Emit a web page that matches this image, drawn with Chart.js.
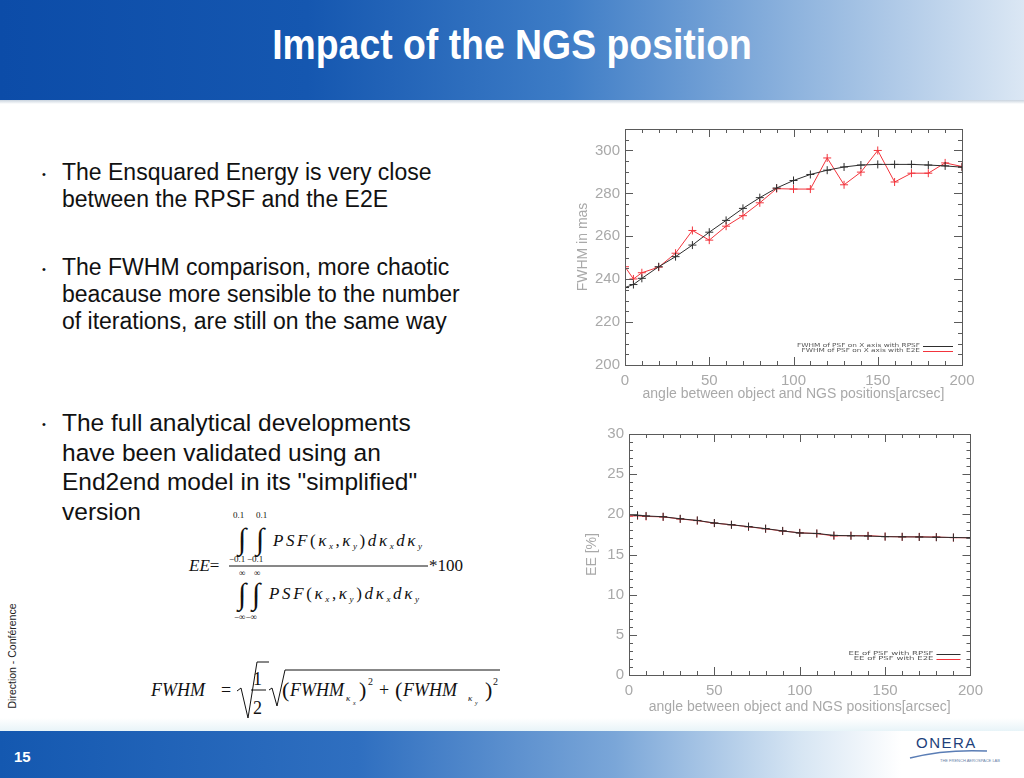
<!DOCTYPE html>
<html>
<head>
<meta charset="utf-8">
<script src="https://cdn.jsdelivr.net/npm/chart.js@4/dist/chart.umd.min.js"></script>
<style>
  html, body { margin: 0; padding: 0; }
  body { width: 1024px; height: 778px; position: relative; overflow: hidden; background: #fff; font-family: "Liberation Sans", Arial, sans-serif; }
  .header { position: absolute; left: 0; top: 0; width: 1024px; height: 100px;
    background: linear-gradient(90deg, #0c4ca8 0%, #1557b0 30%, #3d7cc6 55%, #8fb4de 78%, #dbe7f4 100%); }
  .header-line { position: absolute; left: 0; top: 100px; width: 1024px; height: 4px;
    background: linear-gradient(180deg, #c9d3de, #ffffff); }
  .title { position: absolute; left: 0; top: 21px; width: 1024px; text-align: center; color: #fff;
    font-family: "Liberation Sans", Arial, sans-serif; font-weight: bold; font-size: 42px;
    transform: scaleX(0.89); transform-origin: 512px 0; }
  .footer-tint { position: absolute; left: 0; top: 718px; width: 1024px; height: 14px;
    background: linear-gradient(180deg, #ffffff, #e6f3f8); }
  .footer { position: absolute; left: 0; top: 731px; width: 1024px; height: 47px;
    background: linear-gradient(90deg, #1458b0 0%, #2f6fc0 35%, #7aa6d8 60%, #d6e5f3 78%, #ffffff 88%); }
  .pageno { position: absolute; left: 14px; top: 748px; color: #fff; font-weight: bold; font-size: 15px; }
  .logo { position: absolute; left: 916px; top: 734px; color: #1e3f7a; font-size: 15px; letter-spacing: 1.5px; }
  .logo-sub { position: absolute; left: 940px; top: 758px; color: #6a7fa8; font-size: 4px; }
  .side { position: absolute; left: 12px; top: 656px; transform: translate(-50%, -50%) rotate(-90deg);
    font-size: 10.5px; color: #222; white-space: nowrap; }
  .bullet { position: absolute; color: #111; white-space: nowrap; }
  .b1 { font-size: 23px; line-height: 27px; }
  .b3 { font-size: 24.5px; line-height: 29.7px; }
  .dot { position: absolute; font-size: 11px; color: #111; }
  .chartbox { position: absolute; }
</style>
</head>
<body>
<div class="header"></div>
<div class="header-line"></div>
<div class="title">Impact of the NGS position</div>

<div class="dot" style="left:42px;top:168px">•</div>
<div class="bullet b1" style="left:62px;top:159px">The Ensquared Energy is very close<br>between the RPSF and the E2E</div>
<div class="dot" style="left:42px;top:263px">•</div>
<div class="bullet b1" style="left:62px;top:254px">The FWHM comparison, more chaotic<br>beacause more sensible to the number<br>of iterations, are still on the same way</div>
<div class="dot" style="left:42px;top:418px">•</div>
<div class="bullet b3" style="left:62px;top:408px">The full analytical developments<br>have been validated using an<br>End2end model in its "simplified"<br>version</div>

<svg style="position:absolute;left:0;top:0" width="520" height="730" font-family="Liberation Serif, Times New Roman, serif" fill="#111">
  <g font-size="9">
    <text x="233" y="518">0.1</text><text x="256" y="518">0.1</text>
    <text x="229" y="562">−0.1</text><text x="247" y="562">−0.1</text>
    <text x="239" y="576">∞</text><text x="254" y="576">∞</text>
    <text x="234" y="620">−∞−∞</text>
  </g>
  <g font-size="30">
    <text x="238" y="549">∫</text><text x="256" y="549">∫</text>
    <text x="238" y="604">∫</text><text x="252" y="604">∫</text>
  </g>
  <text x="273" y="546" font-size="17" textLength="149" lengthAdjust="spacing"><tspan font-style="italic">PSF</tspan>(<tspan font-style="italic">κ</tspan><tspan font-size="9" font-style="italic" dy="3">x</tspan><tspan dy="-3">,</tspan><tspan font-style="italic">κ</tspan><tspan font-size="9" font-style="italic" dy="3">y</tspan><tspan dy="-3">)</tspan><tspan font-style="italic">dκ</tspan><tspan font-size="9" font-style="italic" dy="3">x</tspan><tspan dy="-3" font-style="italic">dκ</tspan><tspan font-size="9" font-style="italic" dy="3">y</tspan></text>
  <text x="269" y="599" font-size="17" textLength="150" lengthAdjust="spacing"><tspan font-style="italic">PSF</tspan>(<tspan font-style="italic">κ</tspan><tspan font-size="9" font-style="italic" dy="3">x</tspan><tspan dy="-3">,</tspan><tspan font-style="italic">κ</tspan><tspan font-size="9" font-style="italic" dy="3">y</tspan><tspan dy="-3">)</tspan><tspan font-style="italic">dκ</tspan><tspan font-size="9" font-style="italic" dy="3">x</tspan><tspan dy="-3" font-style="italic">dκ</tspan><tspan font-size="9" font-style="italic" dy="3">y</tspan></text>
  <text x="189" y="571" font-size="17"><tspan font-style="italic">EE</tspan>=</text>
  <text x="429" y="571" font-size="17">*100</text>
  <line x1="229" y1="566" x2="428" y2="566" stroke="#111" stroke-width="1"/>

  <g font-size="18">
    <text x="151" y="696" font-style="italic">FWHM</text>
    <text x="221" y="696">=</text>
    <text x="253" y="685">1</text>
    <text x="253" y="714">2</text>
    <text x="282" y="697" font-size="22">(</text>
    <text x="290" y="696" font-style="italic">FWHM</text>
    <text x="359" y="697" font-size="22">)</text>
    <text x="379" y="696">+</text>
    <text x="395" y="697" font-size="22">(</text>
    <text x="403" y="696" font-style="italic">FWHM</text>
    <text x="485" y="697" font-size="22">)</text>
  </g>
  <g font-size="10">
    <text x="368" y="685">2</text><text x="493" y="685">2</text>
  </g>
  <g font-size="9" font-style="italic">
    <text x="346" y="701">κ</text><text x="353" y="705" font-size="6">x</text>
    <text x="468" y="701">κ</text><text x="475" y="705" font-size="6">y</text>
  </g>
  <line x1="251" y1="690" x2="266" y2="690" stroke="#111" stroke-width="1"/>
  <polyline points="237,691 241,688 248,718 257,662 269,662" fill="none" stroke="#111" stroke-width="1"/>
  <polyline points="269,690 272,688 277,706 285,670 500,670" fill="none" stroke="#111" stroke-width="1"/>
</svg>

<div class="side">Direction - Conférence</div>

<div class="chartbox" style="left:570px;top:115px;width:420px;height:290px"><canvas id="fwhmChart"></canvas></div>
<div class="chartbox" style="left:570px;top:420px;width:420px;height:300px"><canvas id="eeChart"></canvas></div>

<div class="footer-tint"></div>
<div class="footer"></div>
<div class="pageno">15</div>
<div class="logo">ONERA</div>
<svg style="position:absolute;left:905px;top:748px" width="90" height="12">
  <path d="M5 10 Q 40 1 82 3" fill="none" stroke="#5a7db5" stroke-width="1.5"/>
</svg>
<div class="logo-sub">THE FRENCH AEROSPACE LAB</div>

<script>
// angles between object and NGS [arcsec]
const angles = [0, 5, 10, 20, 30, 40, 50, 60, 70, 80, 90, 100, 110, 120, 130, 140, 150, 160, 170, 180, 190, 200];

// FWHM in mas
const fwhmRpsf = [236.1, 237.5, 240.4, 245.8, 250.5, 255.9, 261.9, 267.4, 273.0, 278.0, 282.5, 286.0, 288.8, 290.8, 292.3, 293.2, 293.5, 293.5, 293.5, 293.2, 292.8, 292.2];
const fwhmE2e = [245.8, 240.1, 243.0, 245.6, 252.1, 262.7, 258.2, 264.7, 269.6, 275.6, 282.2, 282.0, 282.0, 296.5, 284.0, 289.9, 300.0, 285.3, 289.4, 289.4, 294.2, 292.5];

// EE in %
const eeRpsf = [19.95, 19.88, 19.8, 19.7, 19.45, 19.24, 18.92, 18.7, 18.47, 18.22, 17.94, 17.68, 17.62, 17.38, 17.33, 17.3, 17.22, 17.2, 17.18, 17.15, 17.12, 17.08];
const eeE2e = [19.78, 19.83, 19.74, 19.68, 19.42, 19.22, 18.9, 18.7, 18.45, 18.2, 17.92, 17.7, 17.6, 17.32, 17.35, 17.34, 17.24, 17.2, 17.2, 17.17, 17.1, 17.08];

const xTicks = [0, 50, 100, 150, 200];
const fwhmTicks = [200, 220, 240, 260, 280, 300];
const eeTicks = [0, 5, 10, 15, 20, 25, 30];

const labelsFwhm = ['FWHM of PSF on X axis with RPSF', 'FWHM of PSF on X axis with E2E'];
const labelsEe = ['EE of PSF with RPSF', 'EE of PSF with E2E'];

const TEXT = '#a9a9a9';
const BLACK = '#2e2e2e';
const RED = '#f2343c';

// IDL style frame: box on four sides, inward major and minor ticks, small legend
const idlFrame = {
    id: 'idlFrame',
    afterDatasetsDraw(chart, args, opts) {
        const { ctx, chartArea: a, scales: { x, y } } = chart;
        ctx.save();
        ctx.strokeStyle = '#5a5a5a';
        ctx.lineWidth = 1;
        ctx.strokeRect(Math.round(a.left) + 0.5, Math.round(a.top) + 0.5, Math.round(a.right - a.left), Math.round(a.bottom - a.top));
        ctx.beginPath();
        for (let v = x.min; v <= x.max + 1e-9; v += opts.xMinor) {
            const p = Math.round(x.getPixelForValue(v)) + 0.5;
            const len = Math.abs(v % opts.xMajor) < 1e-6 ? 8 : 4;
            ctx.moveTo(p, a.bottom); ctx.lineTo(p, a.bottom - len);
            ctx.moveTo(p, a.top); ctx.lineTo(p, a.top + len);
        }
        for (let v = y.min; v <= y.max + 1e-9; v += opts.yMinor) {
            const p = Math.round(y.getPixelForValue(v)) + 0.5;
            const len = Math.abs(v % opts.yMajor) < 1e-6 ? 8 : 4;
            ctx.moveTo(a.left, p); ctx.lineTo(a.left + len, p);
            ctx.moveTo(a.right, p); ctx.lineTo(a.right - len, p);
        }
        ctx.stroke();

        // legend: wide thin text, line sample on the right
        const lg = opts.legend;
        ctx.font = '5.5px "DejaVu Sans", sans-serif';
        ctx.textBaseline = 'middle';
        ctx.textAlign = 'left';
        const widest = Math.max(...chart.data.datasets.map(ds => ctx.measureText(ds.label).width));
        const sx = lg.textWidth / widest;
        chart.data.datasets.forEach((ds, i) => {
            const ly = a.bottom - lg.bottom + i * lg.gap;
            const w = ctx.measureText(ds.label).width * sx;
            ctx.save();
            ctx.translate(a.right - lg.textRight - w, ly);
            ctx.scale(sx, 1);
            ctx.fillStyle = '#555';
            ctx.fillText(ds.label, 0, 0);
            ctx.restore();
            ctx.strokeStyle = ds.borderColor;
            ctx.beginPath();
            ctx.moveTo(a.right - lg.lineFrom, Math.round(ly) + 0.5);
            ctx.lineTo(a.right - lg.lineTo, Math.round(ly) + 0.5);
            ctx.stroke();
        });
        ctx.restore();
    }
};

function makeDataset(label, values, color) {
    return {
        label: label,
        data: angles.map((a, i) => ({ x: a, y: values[i] })),
        borderColor: color,
        backgroundColor: color,
        borderWidth: 1,
        pointStyle: 'cross',
        pointRadius: 4,
        pointBorderWidth: 1,
        pointBorderColor: color,
        tension: 0
    };
}

function makeChart(id, cfg) {
    const ctx = document.getElementById(id).getContext('2d');
    return new Chart(ctx, {
        type: 'line',
        data: { datasets: cfg.datasets },
        options: {
            responsive: true,
            maintainAspectRatio: false,
            animation: false,
            layout: { padding: { top: cfg.padTop, right: cfg.padRight, left: 0, bottom: 0 } },
            plugins: {
                legend: { display: false },
                tooltip: { enabled: false },
                idlFrame: cfg.frame
            },
            scales: {
                x: {
                    type: 'linear',
                    min: 0,
                    max: 200,
                    grid: { display: false, drawTicks: false, tickLength: 0 },
                    border: { display: false },
                    afterBuildTicks: s => { s.ticks = xTicks.map(v => ({ value: v })); },
                    afterFit: s => { s.height = cfg.xHeight; },
                    ticks: { color: TEXT, font: { size: 15, family: 'Liberation Sans' }, padding: cfg.xTickPad, maxRotation: 0 },
                    title: { display: true, text: 'angle between object and NGS positions[arcsec]', color: TEXT,
                        font: { size: 14, family: 'Liberation Sans' }, padding: { top: 0, bottom: cfg.xTitlePad } }
                },
                y: {
                    type: 'linear',
                    min: cfg.yMin,
                    max: cfg.yMax,
                    grid: { display: false, drawTicks: false, tickLength: 0 },
                    border: { display: false },
                    afterBuildTicks: s => { s.ticks = cfg.yTicks.map(v => ({ value: v })); },
                    afterFit: s => { s.width = cfg.yWidth; },
                    ticks: { color: TEXT, font: { size: 15, family: 'Liberation Sans' }, padding: 5 },
                    title: { display: true, text: cfg.yTitle, color: TEXT,
                        font: { size: 14, family: 'Liberation Sans' }, padding: { top: cfg.yTitlePad, bottom: 0 } }
                }
            }
        },
        plugins: [idlFrame]
    });
}

makeChart('fwhmChart', {
    datasets: [makeDataset(labelsFwhm[0], fwhmRpsf, BLACK), makeDataset(labelsFwhm[1], fwhmE2e, RED)],
    yMin: 200, yMax: 310, yTicks: fwhmTicks, yTitle: 'FWHM in mas',
    padTop: 10, padRight: 28, xHeight: 40, yWidth: 55, xTickPad: 7, xTitlePad: 2.5, yTitlePad: 5,
    frame: { xMinor: 10, xMajor: 50, yMinor: 5, yMajor: 20,
        legend: { bottom: 19, gap: 4.7, textRight: 42, textWidth: 123, lineFrom: 39, lineTo: 9 } }
});

makeChart('eeChart', {
    datasets: [makeDataset(labelsEe[0], eeRpsf, BLACK), makeDataset(labelsEe[1], eeE2e, RED)],
    yMin: 0, yMax: 30, yTicks: eeTicks, yTitle: 'EE [%]',
    padTop: 10, padRight: 13, xHeight: 45, yWidth: 59, xTickPad: 7, xTitlePad: 4.5, yTitlePad: 14,
    frame: { xMinor: 10, xMajor: 50, yMinor: 1, yMajor: 5,
        legend: { bottom: 21, gap: 4.7, textRight: 37, textWidth: 85, lineFrom: 34, lineTo: 10 } }
});
</script>
</body>
</html>
